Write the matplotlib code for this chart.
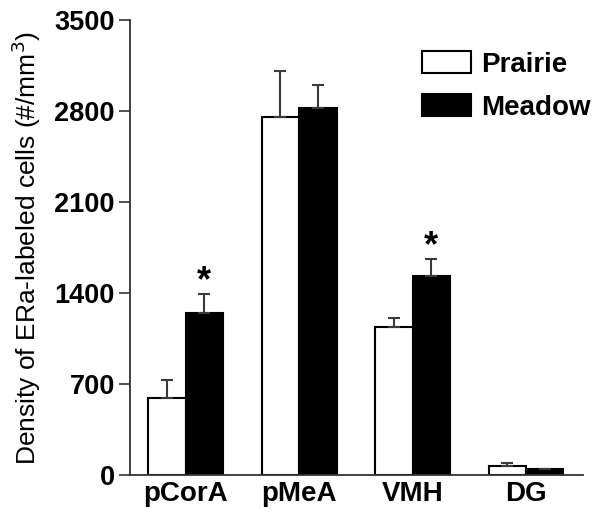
import matplotlib
matplotlib.use('Agg')
import matplotlib.pyplot as plt
import numpy as np

regions = ['pCorA', 'pMeA', 'VMH', 'DG']
prairie = [592, 2756, 1136, 69]
prairie_err = [139, 352, 70, 20]
meadow = [1244, 2821, 1531, 46]
meadow_err = [146, 179, 131, 0]
signif = [True, False, True, False]   # star over meadow bar

plt.rcParams['font.family'] = ['Liberation Sans', 'DejaVu Sans']

fig = plt.figure(figsize=(6.02, 5.18), dpi=100)
ax = fig.add_axes([0.216, 0.083, 0.752, 0.878])

x = np.arange(len(regions))
w = 0.33
ekw = dict(ecolor='#3a3a3a', elinewidth=1.5, capsize=4, capthick=1.5)
ax.bar(x - w/2, prairie, w, color='white', edgecolor='black', linewidth=1.5,
       yerr=[np.zeros(4), prairie_err], error_kw=ekw, label='Prairie')
ax.bar(x + w/2, meadow, w, color='black', edgecolor='black', linewidth=1.5,
       yerr=[np.zeros(4), meadow_err], error_kw=ekw, label='Meadow')

for i, s in enumerate(signif):
    if s:
        ax.text(x[i] + w/2, meadow[i] + meadow_err[i] - 40, '*', ha='center', va='bottom',
                fontsize=26, fontweight='bold')

ax.set_xlim(-0.49, 3.5)
ax.set_ylim(0, 3500)
ax.set_yticks(np.arange(0, 3501, 700))
ax.set_xticks(x)
ax.set_xticklabels(regions, fontsize=20, fontweight='bold')
for t in ax.get_yticklabels():
    t.set_fontsize(19.5)
    t.set_fontweight('bold')
ax.tick_params(axis='x', length=0, pad=4)
ax.tick_params(axis='y', length=8, width=1.2, direction='out', color='#333333', pad=3)
ax.spines['top'].set_visible(False)
ax.spines['right'].set_visible(False)
for sp in ['left', 'bottom']:
    ax.spines[sp].set_linewidth(1.3)
    ax.spines[sp].set_color('#333333')

ax.set_ylabel('Density of ERa-labeled cells (#/mm$^3$)', fontsize=19, labelpad=8)

ax.legend(loc='upper right', bbox_to_anchor=(1.055, 0.968), frameon=False,
          prop={'size': 20, 'weight': 'bold'}, handlelength=1.76, handleheight=0.8,
          handletextpad=0.36, labelspacing=0.6, borderaxespad=0.2)

fig.savefig('out.png', dpi=100)
